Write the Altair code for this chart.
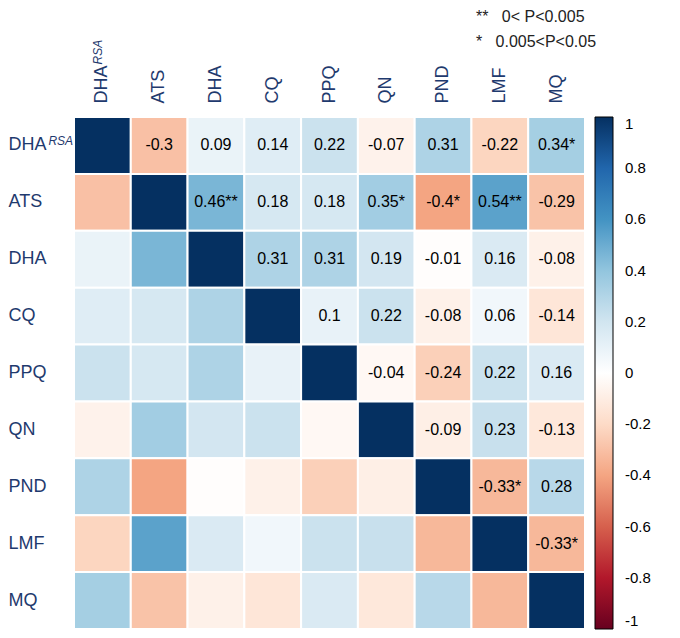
import altair as alt
import pandas as pd

# ---- data ----
variables = ["DHA^RSA", "ATS", "DHA", "CQ", "PPQ", "QN", "PND", "LMF", "MQ"]

# upper-triangle correlations, row by row (columns to the right of the diagonal)
upper = [
    [-0.3, 0.09, 0.14, 0.22, -0.07, 0.31, -0.22, 0.34],
    [0.46, 0.18, 0.18, 0.35, -0.4, 0.54, -0.29],
    [0.31, 0.31, 0.19, -0.01, 0.16, -0.08],
    [0.1, 0.22, -0.08, 0.06, -0.14],
    [-0.04, -0.24, 0.22, 0.16],
    [-0.09, 0.23, -0.13],
    [-0.33, 0.28],
    [-0.33],
]
stars = [
    ["", "", "", "", "", "", "", "*"],
    ["**", "", "", "*", "*", "**", ""],
    ["", "", "", "", "", ""],
    ["", "", "", "", ""],
    ["", "", "", ""],
    ["", "", ""],
    ["*", ""],
    ["*"],
]
sig_notes = ["**\u00a0\u00a0\u00a00<\u00a0P<0.005", "*\u00a0\u00a0\u00a00.005<P<0.05"]
legend_ticks = [1, 0.8, 0.6, 0.4, 0.2, 0, -0.2, -0.4, -0.6, -0.8, -1]
palette_stops = [-1, -0.8, -0.6, -0.4, -0.2, 0, 0.2, 0.4, 0.6, 0.8, 1]
palette = ["#67001F", "#B2182B", "#D6604D", "#F4A582", "#FDDBC7", "#FFFFFF",
           "#D1E5F0", "#92C5DE", "#4393C3", "#2166AC", "#053061"]

# ---- build the full symmetric table ----
rows = []
n = len(variables)
for i in range(n):
    for j in range(n):
        if i == j:
            v, lab, up = 1.0, "", False
        elif j > i:
            v = upper[i][j - i - 1]
            lab, up = f"{v:g}" + stars[i][j - i - 1], True
        else:
            v, lab, up = upper[j][i - j - 1], "", False
        rows.append({"row": variables[i], "col": variables[j], "value": v,
                     "label": lab, "upper": up})
df = pd.DataFrame(rows)
sup_df = pd.DataFrame([{"row": variables[0], "col": variables[0]}])

NAVY = "#1F3A6E"
FONT = "Liberation Sans"
label_expr = "datum.value == 'DHA^RSA' ? 'DHA' : datum.value"

X = alt.X("col:N", sort=variables, title=None,
          scale=alt.Scale(paddingInner=0, paddingOuter=0),
          axis=alt.Axis(orient="top", labelAngle=-90, ticks=False, domain=False,
                        labelFontSize=18, labelColor=NAVY, labelFont=FONT,
                        labelPadding=14, labelExpr=label_expr))
Y = alt.Y("row:N", sort=variables, title=None,
          scale=alt.Scale(paddingInner=0, paddingOuter=0),
          axis=alt.Axis(ticks=False, domain=False, labelFontSize=18,
                        labelColor=NAVY, labelFont=FONT, labelAlign="left",
                        labelPadding=66, labelExpr=label_expr))

base = alt.Chart(df)

cells = base.mark_rect(stroke="white", strokeWidth=2).encode(
    x=X, y=Y,
    color=alt.Color("value:Q",
                    scale=alt.Scale(domain=palette_stops, range=palette, interpolate="rgb"),
                    legend=alt.Legend(title=None, orient="right", offset=10,
                                      direction="vertical",
                                      gradientLength=512, gradientThickness=18,
                                      gradientStrokeColor="black", gradientStrokeWidth=1,
                                      values=legend_ticks, labelFontSize=15,
                                      labelFont=FONT, labelColor="black",
                                      labelOffset=12, padding=0,
                                      labelExpr="'' + datum.value")),
)

texts = base.transform_filter("datum.upper").mark_text(
    fontSize=16, font=FONT, color="black"
).encode(x=X, y=Y, text="label:N")

sup_row = alt.Chart(sup_df).mark_text(
    text="RSA", fontSize=12, fontStyle="italic", font=FONT, color=NAVY,
    align="left", baseline="alphabetic", dx=-54, dy=-0.5
).encode(x=X, y=Y)

sup_col = alt.Chart(sup_df).mark_text(
    text="RSA", fontSize=12, fontStyle="italic", font=FONT, color=NAVY,
    align="left", baseline="alphabetic", angle=270, dx=81, dy=-0.5
).encode(x=X, y=Y)

chart = alt.layer(cells, texts, sup_row, sup_col).properties(
    width=511, height=512,
    autosize=alt.AutoSizeParams(type="none"),
    padding={"left": 66, "top": 109, "right": 87, "bottom": 1},
    title=alt.TitleParams(text=sig_notes, anchor="start", frame="group",
                          align="left", dx=402, dy=14, fontSize=16,
                          fontWeight="normal", font=FONT, color="#222222",
                          lineHeight=25),
).configure_view(stroke=None)

chart.save("out.html", embed_options={"renderer": "svg", "actions": False})
